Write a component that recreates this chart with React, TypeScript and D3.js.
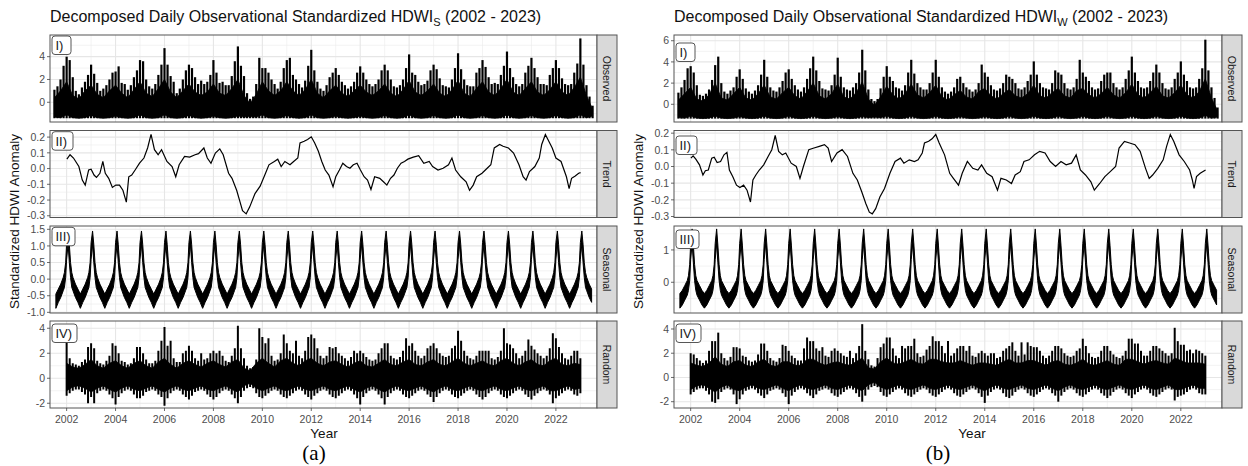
import React from "react";
import * as d3 from "d3";

// ---------------- shared axis data ----------------
const X_DOMAIN: [number, number] = [2001.32, 2023.68];
const X_MAJOR = [2002, 2004, 2006, 2008, 2010, 2012, 2014, 2016, 2018, 2020, 2022];
const X_MINOR = [2003, 2005, 2007, 2009, 2011, 2013, 2015, 2017, 2019, 2021, 2023];
const FACET_NAMES = ["Observed", "Trend", "Seasonal", "Random"];
const FACET_TAGS = ["I)", "II)", "III)", "IV)"];

// ---------------- (a) HDWI_S ----------------
// observed: spike maxima, 8 samples / year starting 2001.5
const OBS_START = 2001.5;
const OBS_HI_STEP = 1 / 8;
const obsHiA = [
  1.1, 1.4, 2.0, 3.2,
  4.0, 3.7, 2.2, 1.0, 0.7, 1.3, 1.8, 2.4,
  3.3, 2.5, 1.7, 1.0, 1.2, 1.5, 2.0, 2.6,
  2.7, 3.15, 1.7, 1.6, 1.1, 1.5, 2.2, 2.8,
  3.7, 3.6, 2.0, 1.4, 1.2, 1.6, 2.4, 3.3,
  4.75, 3.3, 2.3, 1.8, 0.8, 1.2, 2.0, 2.8,
  3.3, 3.0, 2.2, 1.6, 1.9, 1.6, 1.8, 2.4,
  3.7, 2.6, 1.7, 1.8, 1.5, 1.5, 2.3, 3.6,
  4.9, 3.2, 2.3, 0.8, 0.3, 0.5, 1.6, 3.9,
  3.0, 3.0, 2.6, 2.0, 1.6, 1.2, 1.8, 3.0,
  3.7, 3.9, 2.4, 2.0, 1.6, 1.3, 1.9, 3.2,
  4.6, 2.8, 1.8, 1.2, 1.0, 1.5, 2.2, 2.6,
  3.0, 2.4, 1.8, 1.5, 1.2, 1.4, 1.8, 2.6,
  3.15, 2.6, 2.0, 1.6, 1.4, 1.6, 2.0, 2.8,
  3.3, 2.8, 2.0, 1.4, 1.3, 1.5, 2.0, 3.0,
  4.2, 2.6, 2.4, 1.8, 1.5, 1.6, 1.9, 2.8,
  3.3, 2.9, 2.1, 1.5, 1.4, 1.3, 2.0, 3.0,
  4.3, 2.9, 2.0, 1.5, 1.4, 1.4, 2.6, 3.0,
  3.7, 3.1, 2.2, 1.6, 1.7, 1.6, 2.4, 3.2,
  4.45, 3.0, 2.2, 1.6, 1.4, 1.6, 2.6, 3.2,
  3.9, 3.0, 2.2, 1.6, 1.6, 1.5, 2.4, 3.0,
  3.7, 3.0, 2.1, 1.6, 1.5, 1.6, 2.6, 3.4,
  5.6, 3.3, 1.5, 0.5, -0.3,
];
// observed: dense band (upper edge of the solid part) and lower edge, 4 samples / year from 2001.5
const OBS_Q_STEP = 1 / 4;
const obsCoreA = [
  0.4, 1.0,
  1.8, 0.6, 0.3, 1.0,
  1.5, 0.7, 0.4, 1.0,
  1.5, 0.8, 0.4, 1.1,
  1.8, 0.8, 0.5, 1.2,
  2.0, 0.9, 0.4, 1.0,
  1.6, 0.9, 0.6, 0.9,
  1.6, 0.8, 0.6, 1.2,
  2.0, 0.6, -0.1, 0.7,
  1.8, 1.0, 0.6, 1.0,
  1.8, 1.0, 0.6, 1.1,
  2.0, 0.8, 0.4, 1.0,
  1.5, 0.8, 0.5, 1.0,
  1.5, 0.9, 0.6, 1.0,
  1.6, 0.8, 0.5, 1.1,
  1.9, 0.9, 0.6, 1.0,
  1.6, 0.8, 0.5, 1.1,
  1.9, 0.8, 0.5, 1.2,
  1.8, 0.9, 0.6, 1.2,
  2.0, 0.9, 0.6, 1.2,
  1.8, 0.9, 0.6, 1.1,
  1.8, 0.9, 0.6, 1.3,
  2.2, 0.6, -0.6,
];
const obsLoA = [
  -1.3, -1.35,
  -1.1, -1.35, -1.4, -1.35,
  -1.15, -1.35, -1.4, -1.35,
  -1.2, -1.35, -1.4, -1.35,
  -1.1, -1.35, -1.4, -1.35,
  -1.1, -1.35, -1.4, -1.35,
  -1.15, -1.35, -1.4, -1.35,
  -1.2, -1.35, -1.4, -1.35,
  -1.2, -1.3, -1.25, -1.3,
  -1.1, -1.35, -1.4, -1.35,
  -1.15, -1.35, -1.4, -1.35,
  -1.1, -1.35, -1.4, -1.35,
  -1.2, -1.35, -1.4, -1.35,
  -1.2, -1.35, -1.4, -1.35,
  -1.15, -1.35, -1.4, -1.35,
  -1.1, -1.35, -1.4, -1.35,
  -1.15, -1.35, -1.4, -1.35,
  -1.1, -1.35, -1.4, -1.35,
  -1.15, -1.35, -1.4, -1.35,
  -1.1, -1.35, -1.4, -1.35,
  -1.15, -1.35, -1.4, -1.35,
  -1.15, -1.35, -1.4, -1.35,
  -1.1, -1.35, -1.2,
];
// trend (a)
const trendYearsA = [
  2002.01, 2002.14, 2002.28, 2002.5, 2002.64, 2002.76, 2002.9, 2003.0, 2003.12, 2003.22,
  2003.36, 2003.48, 2003.58, 2003.72, 2003.87, 2004.01, 2004.16, 2004.3, 2004.44, 2004.54,
  2004.66, 2004.8, 2004.98, 2005.16, 2005.31, 2005.45, 2005.59, 2005.74, 2005.88, 2006.1,
  2006.31, 2006.46, 2006.6, 2006.82, 2007.03, 2007.25, 2007.39, 2007.61, 2007.75, 2007.9,
  2008.08, 2008.26, 2008.4, 2008.62, 2008.76, 2008.95, 2009.09, 2009.19, 2009.34, 2009.48,
  2009.7, 2009.91, 2010.13, 2010.27, 2010.49, 2010.63, 2010.77, 2010.92, 2011.13, 2011.28,
  2011.45, 2011.54, 2011.71, 2011.85, 2012.0, 2012.14, 2012.29, 2012.43, 2012.57, 2012.72,
  2012.89, 2013.0, 2013.15, 2013.29, 2013.44, 2013.58, 2013.72, 2013.87, 2014.01, 2014.16,
  2014.3, 2014.44, 2014.59, 2014.8, 2014.95, 2015.09, 2015.24, 2015.38, 2015.52, 2015.67,
  2015.81, 2015.95, 2016.17, 2016.39, 2016.6, 2016.82, 2016.96, 2017.18, 2017.39, 2017.61,
  2017.75, 2017.9, 2018.11, 2018.33, 2018.47, 2018.62, 2018.76, 2018.98, 2019.19, 2019.34,
  2019.48, 2019.7, 2019.84, 2020.06, 2020.27, 2020.49, 2020.66, 2020.78, 2020.92, 2021.14,
  2021.32, 2021.42, 2021.57, 2021.71, 2021.85, 2022.0, 2022.21, 2022.43, 2022.54, 2022.64,
  2022.79, 2022.93, 2023.01,
];
const trendA = [
  0.06, 0.088, 0.067, 0.013, -0.073, -0.105, -0.009, -0.004, -0.041, -0.056,
  -0.03, 0.045, -0.03, -0.062, -0.12, -0.105, -0.105, -0.138, -0.213, -0.052,
  -0.041, -0.009, 0.034, 0.067, 0.131, 0.217, 0.12, 0.088, 0.12, 0.045,
  0.013, -0.052, 0.024, 0.077, 0.073, 0.088, 0.095, 0.131, 0.067, 0.034,
  0.099, 0.125, 0.088, -0.03, -0.062, -0.138, -0.213, -0.267, -0.288, -0.245,
  -0.159, -0.112, -0.03, 0.024, 0.045, 0.06, 0.013, 0.045, 0.024, 0.045,
  0.067, 0.163, 0.174, 0.185, 0.202, 0.163, 0.11, 0.045, -0.009, -0.041,
  -0.116, -0.052, -0.009, 0.034, 0.013, 0.002, 0.024, 0.034, -0.009, -0.052,
  -0.073, -0.133, -0.052, -0.062, -0.084, -0.105, -0.062, -0.041, 0.002, 0.034,
  0.045, 0.06, 0.073, 0.082, 0.034, 0.045, 0.013, -0.009, 0.002, 0.024,
  0.067, -0.009, -0.052, -0.084, -0.138, -0.105, -0.052, -0.03, 0.002, 0.024,
  0.131, 0.153, 0.142, 0.131, 0.099, 0.024, -0.052, -0.073, -0.019, 0.013,
  0.067, 0.153, 0.217, 0.174, 0.131, 0.067, 0.045, -0.052, -0.127, -0.062,
  -0.047, -0.03, -0.026,
];
// seasonal: one annual cycle (the seasonal component repeats every year)
const SEAS_START = 2001.5;
const SEAS_END = 2023.5;
const seasPhase = [0, 0.06, 0.11, 0.16, 0.21, 0.26, 0.36, 0.46, 0.56, 0.66, 0.76, 0.86, 0.91, 0.96];
const seasHiA = [1.1, 1.45, 1.05, 0.5, 0.2, 0.05, -0.15, -0.3, -0.45, -0.3, -0.15, 0.05, 0.2, 0.5];
const seasLoA = [0.6, 1.05, 0.5, 0.05, -0.25, -0.35, -0.55, -0.7, -0.88, -0.7, -0.55, -0.35, -0.25, 0.05];
// random: spike maxima / minima, 8 samples / year starting 2002.0
const RAND_START = 2002.0;
const RAND_STEP = 1 / 8;
const randHiA = [
  3.0, 1.6, 1.2, 1.1, 1.0, 1.3, 1.5, 2.5,
  2.8, 2.4, 1.4, 1.2, 1.1, 1.4, 1.8, 2.8,
  2.6, 2.0, 1.4, 1.3, 1.1, 1.2, 1.6, 2.5,
  2.5, 2.0, 1.5, 1.2, 1.2, 1.4, 2.2, 3.0,
  4.1, 2.6, 3.0, 1.6, 1.3, 1.3, 2.0, 2.2,
  2.6, 2.2, 1.6, 1.4, 2.0, 1.5, 1.6, 2.0,
  2.2, 2.0, 2.2, 1.8, 1.4, 1.3, 1.8, 2.4,
  4.2, 2.4, 1.6, 1.0, 0.8, 0.9, 1.5, 4.0,
  3.3, 2.8, 3.2, 1.8, 1.4, 1.5, 2.0, 3.5,
  2.8, 2.2, 2.0, 3.0, 1.8, 1.6, 2.2, 3.3,
  3.5, 3.2, 2.4, 1.8, 1.6, 1.8, 2.5, 2.4,
  2.5, 2.0, 1.8, 1.6, 1.4, 1.7, 2.2, 2.0,
  2.2, 2.0, 1.7, 1.5, 1.4, 1.5, 2.0, 2.4,
  2.8, 2.8, 1.8, 1.6, 1.5, 1.7, 2.2, 3.2,
  2.6, 2.8, 2.2, 1.8, 1.6, 1.8, 2.4, 2.6,
  2.8, 2.4, 2.0, 1.8, 1.7, 1.8, 2.4, 2.6,
  3.8, 3.0, 2.2, 1.8, 1.6, 1.5, 1.8, 2.2,
  2.2, 2.2, 2.2, 1.6, 1.5, 1.7, 2.2, 4.0,
  2.8, 2.7, 2.4, 2.0, 1.6, 1.8, 2.2, 3.1,
  2.6, 2.3, 2.0, 1.8, 1.6, 1.8, 2.4, 3.6,
  3.2, 2.5, 2.0, 1.6, 1.5, 1.8, 2.2, 2.2,
  1.6,
];
const randLoA = [
  -1.4, -1.2, -1.0, -0.9, -0.9, -1.1, -1.3, -2.0,
  -1.5, -2.0, -1.2, -1.0, -0.9, -1.0, -1.3, -1.6,
  -2.1, -1.5, -1.2, -1.0, -0.9, -1.0, -1.3, -1.6,
  -1.6, -1.4, -1.1, -1.0, -0.9, -1.0, -1.3, -1.5,
  -2.2, -1.6, -1.2, -1.0, -0.9, -1.0, -1.3, -1.5,
  -1.7, -1.4, -1.1, -1.0, -0.9, -1.0, -1.3, -1.5,
  -1.7, -1.5, -1.2, -1.0, -0.9, -1.0, -1.3, -1.6,
  -2.0, -1.5, -1.0, -0.8, -0.7, -0.8, -1.2, -1.5,
  -1.6, -1.4, -1.2, -1.0, -0.9, -1.0, -1.3, -1.5,
  -1.6, -1.4, -1.2, -1.0, -0.9, -1.0, -1.3, -1.5,
  -1.7, -1.4, -1.2, -1.0, -0.9, -1.0, -1.3, -1.5,
  -1.6, -1.4, -1.2, -1.0, -0.9, -1.0, -1.3, -1.6,
  -2.1, -1.5, -1.2, -1.0, -0.9, -1.0, -1.3, -1.6,
  -2.1, -1.5, -1.2, -1.0, -0.9, -1.0, -1.3, -1.5,
  -1.6, -1.4, -1.2, -1.0, -0.9, -1.0, -1.3, -1.5,
  -1.9, -1.5, -1.2, -1.0, -0.9, -1.0, -1.3, -1.5,
  -1.6, -1.4, -1.2, -1.0, -0.9, -1.0, -1.3, -1.5,
  -1.7, -1.5, -1.2, -1.0, -0.9, -1.0, -1.3, -1.5,
  -1.6, -1.4, -1.2, -1.0, -0.9, -1.0, -1.3, -1.5,
  -1.7, -1.4, -1.2, -1.0, -0.9, -1.0, -1.3, -2.0,
  -1.6, -1.4, -1.2, -1.0, -0.9, -1.0, -1.3, -1.4,
  -1.2,
];
// random: dense band edges, 4 samples / year starting 2002.0
const RAND_Q_STEP = 1 / 4;
const randCoreHiA = [
  1.2, 0.9, 0.8, 1.1,
  1.5, 1.0, 0.8, 1.2,
  1.4, 1.0, 0.8, 1.2,
  1.4, 1.0, 0.8, 1.3,
  1.6, 1.1, 0.8, 1.2,
  1.4, 1.1, 0.9, 1.2,
  1.4, 1.1, 0.9, 1.3,
  1.5, 0.8, 0.6, 1.2,
  1.6, 1.2, 0.9, 1.4,
  1.6, 1.2, 1.0, 1.4,
  1.6, 1.2, 1.0, 1.3,
  1.4, 1.1, 0.9, 1.2,
  1.4, 1.0, 0.9, 1.2,
  1.5, 1.1, 1.0, 1.3,
  1.5, 1.1, 1.0, 1.3,
  1.5, 1.1, 1.0, 1.3,
  1.6, 1.2, 1.0, 1.2,
  1.4, 1.1, 1.0, 1.4,
  1.6, 1.2, 1.0, 1.3,
  1.5, 1.1, 1.0, 1.4,
  1.6, 1.1, 1.0, 1.2,
  1.1,
];
const randCoreLoA = [
  -1.0, -0.7, -0.6, -0.8,
  -1.1, -0.8, -0.6, -0.9,
  -1.1, -0.8, -0.6, -0.9,
  -1.0, -0.8, -0.6, -0.9,
  -1.1, -0.8, -0.6, -0.9,
  -1.0, -0.8, -0.6, -0.9,
  -1.0, -0.8, -0.6, -0.9,
  -1.1, -0.6, -0.4, -0.8,
  -1.0, -0.8, -0.6, -0.9,
  -1.0, -0.8, -0.6, -0.9,
  -1.0, -0.8, -0.6, -0.9,
  -1.0, -0.8, -0.6, -0.9,
  -1.1, -0.8, -0.6, -0.9,
  -1.1, -0.8, -0.6, -0.9,
  -1.0, -0.8, -0.6, -0.9,
  -1.1, -0.8, -0.6, -0.9,
  -1.0, -0.8, -0.6, -0.9,
  -1.0, -0.8, -0.6, -0.9,
  -1.0, -0.8, -0.6, -0.9,
  -1.0, -0.8, -0.6, -1.0,
  -1.0, -0.8, -0.6, -0.9,
  -0.8,
];

// ---------------- (b) HDWI_W ----------------
const obsHiB = [
  1.1, 1.6, 2.3, 3.4,
  3.6, 3.0, 1.8, 0.9, 0.8, 1.0, 1.4, 2.3,
  3.7, 4.5, 2.0, 1.2, 1.0, 1.3, 1.6, 2.6,
  3.3, 2.4, 1.5, 1.2, 1.0, 1.3, 1.8, 2.8,
  4.2, 2.6, 1.6, 1.3, 1.2, 1.6, 2.2, 3.0,
  3.3, 2.4, 1.8, 1.4, 1.2, 1.6, 2.4, 3.4,
  4.5, 3.2, 2.2, 1.5, 1.4, 1.3, 1.8, 2.8,
  4.4, 2.6, 1.6, 1.4, 1.3, 1.6, 2.0, 3.0,
  5.15, 3.2, 1.4, 0.5, 0.3, 0.5, 1.5, 2.6,
  3.6, 2.6, 2.2, 1.6, 1.5, 1.3, 1.8, 3.0,
  4.2, 2.9, 2.0, 1.6, 1.4, 1.4, 2.0, 3.0,
  4.2, 2.6, 1.6, 1.2, 1.0, 1.2, 1.6, 2.4,
  2.6, 2.0, 1.6, 1.4, 1.2, 1.4, 2.0, 3.75,
  3.0, 2.6, 1.8, 1.4, 1.3, 1.5, 2.0, 2.8,
  2.6, 2.4, 2.0, 1.5, 1.4, 1.6, 2.2, 2.8,
  4.05, 2.8, 2.0, 1.6, 1.5, 1.4, 2.0, 3.2,
  3.0, 2.8, 2.0, 1.5, 1.4, 1.6, 2.4, 4.2,
  3.0, 2.6, 2.2, 1.6, 1.4, 1.5, 2.2, 2.8,
  3.0, 3.0, 2.0, 1.6, 1.4, 1.6, 2.4, 3.2,
  4.5, 3.0, 2.2, 1.6, 1.5, 1.6, 2.2, 3.0,
  3.75, 3.0, 2.0, 1.5, 1.4, 1.6, 2.4, 3.0,
  4.05, 2.8, 2.2, 1.6, 1.5, 1.6, 2.4, 3.4,
  6.1, 3.2, 1.6, 0.6, -0.3,
];
const obsCoreB = [
  0.4, 1.0,
  1.6, 0.5, 0.3, 0.9,
  2.0, 0.6, 0.4, 1.0,
  1.6, 0.6, 0.4, 1.0,
  1.8, 0.7, 0.5, 1.1,
  1.6, 0.8, 0.5, 1.2,
  2.0, 0.8, 0.5, 1.0,
  1.9, 0.7, 0.5, 1.1,
  2.1, 0.5, -0.1, 0.7,
  1.7, 0.9, 0.5, 1.0,
  1.9, 0.9, 0.6, 1.1,
  1.8, 0.7, 0.4, 0.9,
  1.3, 0.7, 0.5, 1.2,
  1.5, 0.8, 0.5, 1.0,
  1.4, 0.8, 0.6, 1.0,
  1.8, 0.8, 0.6, 1.1,
  1.5, 0.8, 0.6, 1.3,
  1.5, 0.9, 0.6, 1.0,
  1.6, 0.9, 0.6, 1.1,
  1.9, 0.9, 0.6, 1.1,
  1.7, 0.8, 0.6, 1.1,
  1.8, 0.9, 0.6, 1.2,
  2.4, 0.6, -0.6,
];
const obsLoB = [
  -1.25, -1.3,
  -1.1, -1.3, -1.35, -1.3,
  -1.1, -1.3, -1.35, -1.3,
  -1.15, -1.3, -1.35, -1.3,
  -1.1, -1.3, -1.35, -1.3,
  -1.1, -1.3, -1.35, -1.3,
  -1.1, -1.3, -1.35, -1.3,
  -1.15, -1.3, -1.35, -1.3,
  -1.15, -1.25, -1.2, -1.25,
  -1.1, -1.3, -1.35, -1.3,
  -1.1, -1.3, -1.35, -1.3,
  -1.1, -1.3, -1.35, -1.3,
  -1.15, -1.3, -1.35, -1.3,
  -1.15, -1.3, -1.35, -1.3,
  -1.1, -1.3, -1.35, -1.3,
  -1.1, -1.3, -1.35, -1.3,
  -1.1, -1.3, -1.35, -1.3,
  -1.1, -1.3, -1.35, -1.3,
  -1.1, -1.3, -1.35, -1.3,
  -1.1, -1.3, -1.35, -1.3,
  -1.1, -1.3, -1.35, -1.3,
  -1.1, -1.3, -1.35, -1.3,
  -1.05, -1.3, -1.2,
];
const trendYearsB = [
  2002.01, 2002.1, 2002.21, 2002.36, 2002.5, 2002.6, 2002.72, 2002.86, 2002.96, 2003.08,
  2003.22, 2003.36, 2003.48, 2003.58, 2003.72, 2003.87, 2004.01, 2004.16, 2004.3, 2004.44,
  2004.54, 2004.66, 2004.8, 2004.98, 2005.16, 2005.31, 2005.45, 2005.59, 2005.74, 2005.88,
  2006.1, 2006.31, 2006.46, 2006.6, 2006.82, 2007.03, 2007.25, 2007.46, 2007.61, 2007.75,
  2007.97, 2008.18, 2008.4, 2008.62, 2008.8, 2008.98, 2009.15, 2009.29, 2009.41, 2009.55,
  2009.72, 2009.91, 2010.13, 2010.34, 2010.56, 2010.7, 2010.92, 2011.13, 2011.28, 2011.45,
  2011.54, 2011.71, 2011.85, 2012.0, 2012.14, 2012.36, 2012.57, 2012.72, 2012.93, 2013.08,
  2013.29, 2013.51, 2013.72, 2013.87, 2014.08, 2014.3, 2014.52, 2014.66, 2014.88, 2015.09,
  2015.24, 2015.45, 2015.6, 2015.81, 2016.03, 2016.24, 2016.46, 2016.67, 2016.89, 2017.11,
  2017.32, 2017.54, 2017.73, 2017.9, 2018.11, 2018.33, 2018.47, 2018.69, 2018.9, 2019.12,
  2019.34, 2019.48, 2019.7, 2019.91, 2020.13, 2020.34, 2020.56, 2020.71, 2020.85, 2021.06,
  2021.28, 2021.42, 2021.57, 2021.71, 2021.93, 2022.14, 2022.36, 2022.47, 2022.54, 2022.64,
  2022.79, 2023.01,
];
const trendB = [
  0.05, 0.064, 0.044, 0.01, -0.051, -0.025, -0.021, 0.05, 0.056, 0.024,
  0.03, 0.07, 0.085, -0.021, -0.061, -0.112, -0.126, -0.112, -0.142, -0.213,
  -0.081, -0.051, -0.021, 0.01, 0.06, 0.101, 0.186, 0.091, 0.07, 0.081,
  0.02, 0.0, -0.071, 0.0, 0.101, 0.111, 0.121, 0.131, 0.111, 0.03,
  0.081, 0.101, 0.06, -0.041, -0.081, -0.152, -0.223, -0.274, -0.284, -0.253,
  -0.183, -0.132, -0.041, 0.03, 0.05, 0.02, 0.04, 0.03, 0.04, 0.081,
  0.141, 0.151, 0.166, 0.192, 0.141, 0.07, -0.041, -0.071, -0.112, -0.041,
  0.03, -0.011, -0.021, 0.01, -0.041, -0.061, -0.142, -0.071, -0.081, -0.102,
  -0.051, -0.031, 0.03, 0.04, 0.07, 0.091, 0.081, 0.03, 0.0, 0.03,
  0.01, 0.02, 0.07, -0.021, -0.051, -0.092, -0.142, -0.102, -0.061, -0.031,
  0.0, 0.111, 0.151, 0.141, 0.131, 0.091, -0.011, -0.071, -0.051, -0.011,
  0.04, 0.121, 0.192, 0.151, 0.07, 0.03, -0.021, -0.081, -0.132, -0.061,
  -0.041, -0.021,
];
const seasHiB = [1.2, 1.65, 1.15, 0.55, 0.2, 0.05, -0.1, -0.25, -0.35, -0.25, -0.1, 0.05, 0.2, 0.55];
const seasLoB = [0.7, 1.2, 0.6, 0.05, -0.25, -0.4, -0.55, -0.7, -0.8, -0.7, -0.55, -0.4, -0.25, 0.05];
const randHiB = [
  2.0, 1.9, 1.6, 1.4, 1.2, 1.4, 2.2, 3.0,
  3.0, 3.7, 2.0, 1.6, 1.4, 1.7, 2.5, 2.5,
  2.4, 1.8, 1.7, 1.4, 1.3, 1.4, 1.9, 2.8,
  2.8, 2.2, 1.6, 1.4, 1.3, 1.6, 2.7, 2.6,
  2.2, 1.8, 1.6, 1.4, 1.4, 2.4, 3.3, 3.0,
  3.0, 2.4, 2.2, 2.5, 1.8, 1.7, 2.2, 2.4,
  2.2, 2.0, 1.8, 1.7, 2.2, 1.6, 2.0, 2.6,
  4.4, 2.2, 1.5, 1.0, 0.9, 1.6, 2.5, 2.8,
  3.3, 3.3, 2.4, 1.8, 1.6, 2.6, 2.4, 2.6,
  2.6, 3.2, 2.0, 1.7, 1.8, 2.3, 2.6, 3.4,
  3.0, 3.0, 2.6, 2.0, 3.0, 1.8, 2.0, 2.4,
  2.6, 2.6, 2.2, 2.6, 1.8, 1.7, 2.0, 2.2,
  2.0, 1.8, 2.0, 2.0, 1.6, 1.7, 2.2, 2.4,
  2.6, 2.9, 2.2, 1.8, 2.9, 1.9, 2.9, 2.6,
  2.5, 2.5, 2.2, 1.8, 1.6, 1.8, 2.2, 2.6,
  2.6, 2.4, 2.0, 1.8, 1.7, 1.8, 2.2, 2.4,
  3.2, 2.6, 2.0, 1.7, 1.6, 1.7, 2.2, 2.6,
  2.6, 2.2, 1.9, 1.7, 1.6, 1.8, 2.2, 3.2,
  3.2, 2.8, 2.8, 2.2, 1.8, 1.8, 2.2, 2.6,
  2.6, 2.4, 2.2, 2.0, 1.8, 2.0, 4.1, 3.0,
  2.7, 2.7, 2.2, 2.3, 2.0, 2.3, 2.2, 2.0,
  1.8,
];
const randLoB = [
  -1.4, -1.2, -1.0, -0.9, -0.9, -1.1, -1.4, -2.0,
  -2.1, -1.8, -1.2, -1.0, -0.9, -1.0, -1.4, -2.2,
  -1.8, -1.4, -1.1, -1.0, -0.9, -1.0, -1.3, -1.5,
  -1.7, -1.4, -1.1, -1.0, -0.9, -1.0, -1.3, -1.6,
  -2.2, -1.5, -1.2, -1.0, -0.9, -1.0, -1.3, -1.5,
  -1.7, -1.4, -1.1, -1.0, -0.9, -1.0, -1.3, -1.5,
  -1.6, -1.4, -1.2, -1.0, -0.9, -1.0, -1.3, -1.6,
  -2.0, -1.5, -1.0, -0.8, -0.7, -0.8, -1.2, -1.5,
  -1.6, -1.4, -1.2, -1.0, -0.9, -1.0, -1.3, -1.5,
  -1.6, -1.4, -1.2, -1.0, -0.9, -1.0, -1.3, -1.5,
  -1.6, -1.4, -1.2, -1.0, -0.9, -1.0, -1.3, -1.5,
  -1.6, -1.4, -1.2, -1.0, -0.9, -1.0, -1.3, -1.6,
  -2.1, -1.5, -1.2, -1.0, -0.9, -1.0, -1.3, -1.6,
  -1.7, -1.5, -1.2, -1.0, -0.9, -1.0, -1.3, -1.5,
  -1.6, -1.4, -1.2, -1.0, -0.9, -1.0, -1.3, -1.5,
  -2.0, -1.5, -1.2, -1.0, -0.9, -1.0, -1.3, -1.5,
  -1.6, -1.4, -1.2, -1.0, -0.9, -1.0, -1.3, -1.5,
  -1.7, -1.5, -1.2, -1.0, -0.9, -1.0, -1.3, -1.5,
  -1.7, -1.4, -1.2, -1.0, -0.9, -1.0, -1.3, -1.5,
  -1.6, -1.4, -1.2, -1.0, -0.9, -1.0, -1.9, -1.6,
  -1.5, -1.4, -1.2, -1.0, -0.9, -1.0, -1.3, -1.4,
  -1.4,
];
const randCoreHiB = [
  1.2, 1.0, 0.9, 1.2,
  1.7, 1.1, 0.9, 1.3,
  1.4, 1.0, 0.9, 1.3,
  1.5, 1.0, 0.9, 1.3,
  1.3, 1.0, 1.0, 1.5,
  1.5, 1.2, 1.0, 1.2,
  1.3, 1.1, 1.0, 1.3,
  1.6, 0.8, 0.7, 1.3,
  1.6, 1.2, 1.1, 1.3,
  1.5, 1.2, 1.1, 1.5,
  1.5, 1.3, 1.2, 1.2,
  1.4, 1.2, 1.0, 1.2,
  1.2, 1.1, 1.0, 1.3,
  1.5, 1.2, 1.2, 1.4,
  1.4, 1.2, 1.0, 1.3,
  1.4, 1.1, 1.0, 1.2,
  1.5, 1.1, 1.0, 1.2,
  1.4, 1.1, 1.0, 1.5,
  1.5, 1.3, 1.1, 1.3,
  1.4, 1.2, 1.1, 1.6,
  1.4, 1.2, 1.2, 1.2,
  1.1,
];
const randCoreLoB = [
  -1.0, -0.7, -0.6, -0.9,
  -1.2, -0.8, -0.6, -1.0,
  -1.1, -0.8, -0.6, -0.9,
  -1.0, -0.8, -0.6, -0.9,
  -1.1, -0.8, -0.6, -0.9,
  -1.0, -0.8, -0.6, -0.9,
  -1.0, -0.8, -0.6, -0.9,
  -1.1, -0.6, -0.4, -0.8,
  -1.0, -0.8, -0.6, -0.9,
  -1.0, -0.8, -0.6, -0.9,
  -1.0, -0.8, -0.6, -0.9,
  -1.0, -0.8, -0.6, -0.9,
  -1.1, -0.8, -0.6, -0.9,
  -1.0, -0.8, -0.6, -0.9,
  -1.0, -0.8, -0.6, -0.9,
  -1.1, -0.8, -0.6, -0.9,
  -1.0, -0.8, -0.6, -0.9,
  -1.0, -0.8, -0.6, -0.9,
  -1.0, -0.8, -0.6, -0.9,
  -1.0, -0.8, -0.6, -1.0,
  -1.0, -0.8, -0.6, -0.9,
  -0.9,
];

// ---------------- y axes ----------------
const yDomainsA: [number, number][] = [[-1.73, 5.9], [-0.311, 0.242], [-1.02, 1.6], [-2.38, 4.58]];
const yMajorA = [[0, 2, 4], [-0.3, -0.2, -0.1, 0, 0.1, 0.2], [-1, -0.5, 0, 0.5, 1, 1.5], [-2, 0, 2, 4]];
const yMinorA = [[-1, 1, 3, 5], [-0.25, -0.15, -0.05, 0.05, 0.15], [-0.75, -0.25, 0.25, 0.75, 1.25], [-1, 1, 3]];
const yDecA = [0, 1, 1, 0];
const yDomainsB: [number, number][] = [[-1.67, 6.54], [-0.306, 0.216], [-0.95, 1.74], [-2.52, 4.66]];
const yMajorB = [[0, 2, 4, 6], [-0.3, -0.2, -0.1, 0, 0.1, 0.2], [0, 1], [-2, 0, 2, 4]];
const yMinorB = [[-1, 1, 3, 5], [-0.25, -0.15, -0.05, 0.05, 0.15], [-0.5, 0.5, 1.5], [-1, 1, 3]];
const yDecB = [0, 1, 0, 0];

// ---------------- layout ----------------
const PANEL_TOPS = [35, 130.5, 226, 321];
const PANEL_H = 87;
const STRIP_W = 20;
const FONT = "'Liberation Sans', Arial, Helvetica, sans-serif";

type Pt = [number, number];
const regular = (start: number, step: number, vals: number[]): Pt[] =>
  vals.map((v, i) => [start + i * step, v]);
const paired = (ts: number[], vals: number[]): Pt[] => vals.map((v, i) => [ts[i], v]);
const tiled = (phase: number[], vals: number[]): Pt[] => {
  const out: Pt[] = [];
  for (let yr = Math.floor(SEAS_START); yr <= Math.ceil(SEAS_END); yr++) {
    phase.forEach((p, i) => {
      const t = yr + p;
      if (t >= SEAS_START && t <= SEAS_END) out.push([t, vals[i]]);
    });
  }
  return out;
};

interface ChartProps {
  left: number;
  right: number;
  sub: string;
  yDomains: [number, number][];
  yMajor: number[][];
  yMinor: number[][];
  yDec: number[];
  obsHi: number[];
  obsCore: number[];
  obsLo: number[];
  trendYears: number[];
  trend: number[];
  seasHi: number[];
  seasLo: number[];
  randHi: number[];
  randLo: number[];
  randCoreHi: number[];
  randCoreLo: number[];
  tagOffsets: number[];
  tagWidths: number[];
  yTitleX: number;
  yearX: number;
  captionX: number;
  caption: string;
}

function Chart(p: ChartProps) {
  const x = d3.scaleLinear().domain(X_DOMAIN).range([p.left, p.right]);
  const line = d3.line<Pt>();
  const band = (hi: Pt[], lo: Pt[], y: d3.ScaleLinear<number, number>) => {
    const pts: Pt[] = [
      ...hi.map((d) => [x(d[0]), y(d[1])] as Pt),
      ...lo.slice().reverse().map((d) => [x(d[0]), y(d[1])] as Pt),
    ];
    return (line(pts) || "") + "Z";
  };

  return (
    <g>
      <text x={p.left} y={22} fontFamily={FONT} fontSize={16} fill="#111">
        Decomposed Daily Observational Standardized HDWI
        <tspan fontSize={11} dy={4}>{p.sub}</tspan>
        <tspan dy={-4}> (2002 - 2023)</tspan>
      </text>
      <text
        transform={`translate(${p.yTitleX},${(PANEL_TOPS[0] + PANEL_TOPS[3] + PANEL_H) / 2}) rotate(-90)`}
        textAnchor="middle"
        fontFamily={FONT}
        fontSize={13.5}
        fill="#111"
      >
        Standardized HDWI Anomaly
      </text>
      {PANEL_TOPS.map((top, k) => {
        const y = d3.scaleLinear().domain(p.yDomains[k]).range([top + PANEL_H, top]);
        let mark: React.ReactNode = null;
        if (k === 0) {
          const base = d3.min(p.obsLo) as number;
          mark = (
            <g>
              <path
                d={band(regular(OBS_START, OBS_Q_STEP, p.obsCore), regular(OBS_START, OBS_Q_STEP, p.obsLo), y)}
                fill="#000"
                stroke="#000"
                strokeWidth={0.8}
              />
              {regular(OBS_START, OBS_HI_STEP, p.obsHi).map((d, i) => (
                <line key={i} x1={x(d[0])} x2={x(d[0])} y1={y(base)} y2={y(d[1])} stroke="#000" strokeWidth={2.2} />
              ))}
            </g>
          );
        } else if (k === 1) {
          const pts = paired(p.trendYears, p.trend).map((d) => [x(d[0]), y(d[1])] as Pt);
          mark = <path d={line(pts) || ""} fill="none" stroke="#000" strokeWidth={1.2} />;
        } else if (k === 2) {
          mark = (
            <path
              d={band(tiled(seasPhase, p.seasHi), tiled(seasPhase, p.seasLo), y)}
              fill="#000"
              stroke="#000"
              strokeWidth={1}
            />
          );
        } else {
          const hi = regular(RAND_START, RAND_STEP, p.randHi);
          const lo = regular(RAND_START, RAND_STEP, p.randLo);
          mark = (
            <g>
              <path
                d={band(regular(RAND_START, RAND_Q_STEP, p.randCoreHi), regular(RAND_START, RAND_Q_STEP, p.randCoreLo), y)}
                fill="#000"
                stroke="#000"
                strokeWidth={0.8}
              />
              {hi.map((d, i) => (
                <line key={i} x1={x(d[0])} x2={x(d[0])} y1={y(lo[i][1])} y2={y(d[1])} stroke="#000" strokeWidth={2} />
              ))}
            </g>
          );
        }
        const tagY = top + p.tagOffsets[k];
        return (
          <g key={k}>
            <rect x={p.left} y={top} width={p.right - p.left} height={PANEL_H} fill="#fff" />
            {p.yMinor[k].map((v) => (
              <line key={"ym" + v} x1={p.left} x2={p.right} y1={y(v)} y2={y(v)} stroke="#ebebeb" strokeWidth={0.6} />
            ))}
            {X_MINOR.map((v) => (
              <line key={"xm" + v} x1={x(v)} x2={x(v)} y1={top} y2={top + PANEL_H} stroke="#ebebeb" strokeWidth={0.6} />
            ))}
            {p.yMajor[k].map((v) => (
              <line key={"yM" + v} x1={p.left} x2={p.right} y1={y(v)} y2={y(v)} stroke="#e6e6e6" strokeWidth={1.1} />
            ))}
            {X_MAJOR.map((v) => (
              <line key={"xM" + v} x1={x(v)} x2={x(v)} y1={top} y2={top + PANEL_H} stroke="#e6e6e6" strokeWidth={1.1} />
            ))}
            {mark}
            <rect x={p.left} y={top} width={p.right - p.left} height={PANEL_H} fill="none" stroke="#555" strokeWidth={1} />
            {p.yMajor[k].map((v) => (
              <g key={"t" + v}>
                <line x1={p.left - 3} x2={p.left} y1={y(v)} y2={y(v)} stroke="#444" strokeWidth={0.8} />
                <text
                  x={p.left - 5}
                  y={y(v)}
                  dy="0.35em"
                  textAnchor="end"
                  fontFamily={FONT}
                  fontSize={10.5}
                  fill="#4d4d4d"
                >
                  {v.toFixed(p.yDec[k])}
                </text>
              </g>
            ))}
            <rect x={p.right} y={top} width={STRIP_W} height={PANEL_H} fill="#d9d9d9" stroke="#555" strokeWidth={1} />
            <text
              transform={`translate(${p.right + STRIP_W / 2},${top + PANEL_H / 2}) rotate(90)`}
              textAnchor="middle"
              dy="0.35em"
              fontFamily={FONT}
              fontSize={10.5}
              fill="#1a1a1a"
            >
              {FACET_NAMES[k]}
            </text>
            <rect
              x={p.left + 2}
              y={tagY}
              width={p.tagWidths[k]}
              height={18.5}
              rx={3}
              fill="#fff"
              stroke="#444"
              strokeWidth={0.9}
            />
            <text x={p.left + 5.5} y={tagY + 13.8} fontFamily={FONT} fontSize={13} fill="#1a1a1a">
              {FACET_TAGS[k]}
            </text>
          </g>
        );
      })}
      {X_MAJOR.map((v) => (
        <g key={"xt" + v}>
          <line
            x1={x(v)}
            x2={x(v)}
            y1={PANEL_TOPS[3] + PANEL_H}
            y2={PANEL_TOPS[3] + PANEL_H + 3}
            stroke="#444"
            strokeWidth={0.8}
          />
          <text
            x={x(v)}
            y={PANEL_TOPS[3] + PANEL_H + 15}
            textAnchor="middle"
            fontFamily={FONT}
            fontSize={10.5}
            fill="#4d4d4d"
          >
            {v}
          </text>
        </g>
      ))}
      <text x={p.yearX} y={437.5} textAnchor="middle" fontFamily={FONT} fontSize={13.5} fill="#111">
        Year
      </text>
      <text
        x={p.captionX}
        y={460}
        textAnchor="middle"
        fontFamily="'Liberation Serif', 'DejaVu Serif', serif"
        fontSize={21}
        fill="#000"
      >
        {p.caption}
      </text>
    </g>
  );
}

export default function App() {
  return (
    <svg width={1248} height={466} style={{ display: "block", position: "absolute", left: 0, top: 0, background: "#fff" }}>
      <rect width={1248} height={466} fill="#fff" />
      <Chart
        left={50}
        right={597}
        sub="S"
        yDomains={yDomainsA}
        yMajor={yMajorA}
        yMinor={yMinorA}
        yDec={yDecA}
        obsHi={obsHiA}
        obsCore={obsCoreA}
        obsLo={obsLoA}
        trendYears={trendYearsA}
        trend={trendA}
        seasHi={seasHiA}
        seasLo={seasLoA}
        randHi={randHiA}
        randLo={randLoA}
        randCoreHi={randCoreHiA}
        randCoreLo={randCoreLoA}
        tagOffsets={[1, 1.2, 1.3, 3]}
        tagWidths={[19, 21, 23, 25]}
        yTitleX={19}
        yearX={324}
        captionX={314}
        caption="(a)"
      />
      <Chart
        left={674}
        right={1222}
        sub="W"
        yDomains={yDomainsB}
        yMajor={yMajorB}
        yMinor={yMinorB}
        yDec={yDecB}
        obsHi={obsHiB}
        obsCore={obsCoreB}
        obsLo={obsLoB}
        trendYears={trendYearsB}
        trend={trendB}
        seasHi={seasHiB}
        seasLo={seasLoB}
        randHi={randHiB}
        randLo={randLoB}
        randCoreHi={randCoreHiB}
        randCoreLo={randCoreLoB}
        tagOffsets={[8, 5.5, 4, 3]}
        tagWidths={[19, 21, 23, 25]}
        yTitleX={643}
        yearX={972}
        captionX={938}
        caption="(b)"
      />
    </svg>
  );
}
